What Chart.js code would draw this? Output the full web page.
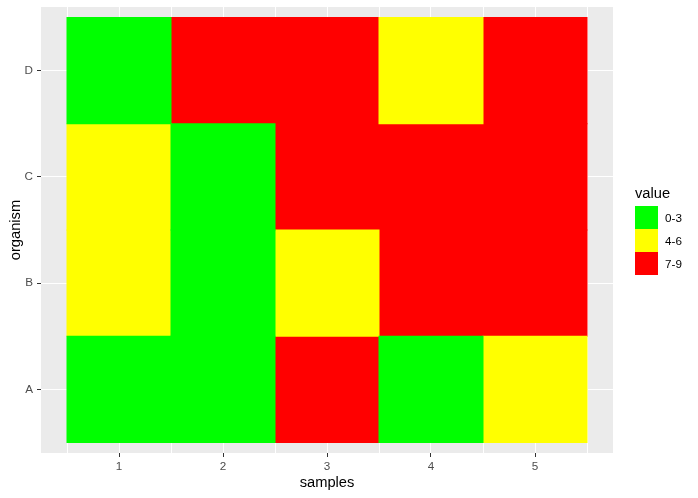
<!DOCTYPE html>
<html>
<head>
<meta charset="utf-8">
<script src="https://cdn.jsdelivr.net/npm/chart.js@4"></script>
<style>
    body { margin: 0; background: #fff; }
    #wrap { position: relative; width: 698px; height: 498px; }
    #legend { position: absolute; left: 635px; top: 185px; font-family: "Liberation Sans", Arial, sans-serif; color: #000; }
    #legend .title { font-size: 14.7px; line-height: 17px; height: 21px; }
    #legend .item { display: flex; align-items: center; height: 23px; font-size: 11.7px; }
    #legend .box { width: 23px; height: 23px; margin-right: 7px; }
</style>
</head>
<body>
<div id="wrap">
    <canvas id="graficoHeatmap"></canvas>
    <div id="legend"></div>
</div>
<script>
const samples = [1, 2, 3, 4, 5];
const organisms = ['A', 'B', 'C', 'D'];
const classes = ['0-3', '4-6', '7-9'];
const classColors = ['#00FF00', '#FFFF00', '#FF0000'];

// one row per organism, left to right over the samples
const rowA = ['0-3', '0-3', '7-9', '0-3', '4-6'];
const rowB = ['4-6', '0-3', '4-6', '7-9', '7-9'];
const rowC = ['4-6', '0-3', '7-9', '7-9', '7-9'];
const rowD = ['0-3', '7-9', '7-9', '4-6', '7-9'];
const rows = [rowA, rowB, rowC, rowD];

const fontFamily = '"Liberation Sans", Arial, sans-serif';

function buildDatasets() {
    return classes.map((cls, k) => {
        const data = [];
        rows.forEach((row, r) => {
            row.forEach((c, s) => {
                if (c === cls) data.push({ x: samples[s], y: [r + 0.5, r + 1.5] });
            });
        });
        return {
            label: cls,
            data,
            backgroundColor: classColors[k],
            borderWidth: 0,
            grouped: false,
            categoryPercentage: 1,
            // ticks sit every half step, so the smallest gap is half a tile
            barPercentage: 2,
            inflateAmount: 0.5
        };
    });
}

const panelBackground = {
    id: 'panelBackground',
    beforeDraw(chart) {
        const { ctx, chartArea: a } = chart;
        ctx.save();
        ctx.fillStyle = '#EBEBEB';
        ctx.fillRect(a.left, a.top, a.right - a.left, a.bottom - a.top);
        ctx.restore();
    }
};

const xTickValues = samples.flatMap(s => [s - 0.5, s]).concat(samples[samples.length - 1] + 0.5);
const yTickValues = organisms.map((o, i) => i + 1);

const tickMarkColor = ctx => (ctx.tick && Number.isInteger(ctx.tick.value)) ? '#333333' : 'rgba(0,0,0,0)';

// fixed axis boxes so the panel lands where ggplot put it
const fixAxis = (size) => axis => {
    if (axis.isHorizontal()) axis.height = size; else axis.width = size;
    axis.paddingTop = 0;
    axis.paddingBottom = 0;
    axis.paddingLeft = 0;
    axis.paddingRight = 0;
};

const ctxHeatmap = document.getElementById('graficoHeatmap').getContext('2d');

new Chart(ctxHeatmap, {
    type: 'bar',
    data: { datasets: buildDatasets() },
    options: {
        responsive: true,
        maintainAspectRatio: false,
        animation: false,
        layout: { padding: { top: 7, right: 85, bottom: 0, left: 0 } },
        plugins: {
            legend: { display: false },
            tooltip: { enabled: false }
        },
        scales: {
            x: {
                type: 'linear',
                min: 0.25,
                max: 5.75,
                offset: false,
                afterBuildTicks: axis => { axis.ticks = xTickValues.map(v => ({ value: v })); },
                afterFit: fixAxis(45),
                border: { display: false },
                grid: { offset: false, color: '#FFFFFF', lineWidth: 1, tickLength: 4, tickWidth: 1, tickColor: tickMarkColor },
                ticks: {
                    color: '#4D4D4D',
                    font: { family: fontFamily, size: 11.7 },
                    padding: 3,
                    autoSkip: false,
                    maxRotation: 0,
                    callback: value => Number.isInteger(value) ? String(value) : ''
                },
                title: {
                    display: true,
                    text: 'samples',
                    color: '#000000',
                    font: { family: fontFamily, size: 14.7 },
                    padding: { top: 0, bottom: 6 }
                }
            },
            y: {
                type: 'linear',
                min: 0.4,
                max: 4.6,
                afterBuildTicks: axis => { axis.ticks = yTickValues.map(v => ({ value: v })); },
                afterFit: fixAxis(41),
                border: { display: false },
                grid: { offset: false, color: '#FFFFFF', lineWidth: 1, tickLength: 4, tickWidth: 1, tickColor: '#333333' },
                ticks: {
                    color: '#4D4D4D',
                    font: { family: fontFamily, size: 11.7 },
                    padding: 4,
                    callback: value => organisms[value - 1]
                },
                title: {
                    display: true,
                    text: 'organism',
                    color: '#000000',
                    font: { family: fontFamily, size: 14.7 },
                    padding: { top: 7, bottom: 0 }
                }
            }
        }
    },
    plugins: [panelBackground]
});

const legendEl = document.getElementById('legend');
legendEl.innerHTML = '<div class="title">value</div>' + classes.map((cls, k) =>
    '<div class="item"><span class="box" style="background:' + classColors[k] + '"></span>' + cls + '</div>'
).join('');
</script>
</body>
</html>
